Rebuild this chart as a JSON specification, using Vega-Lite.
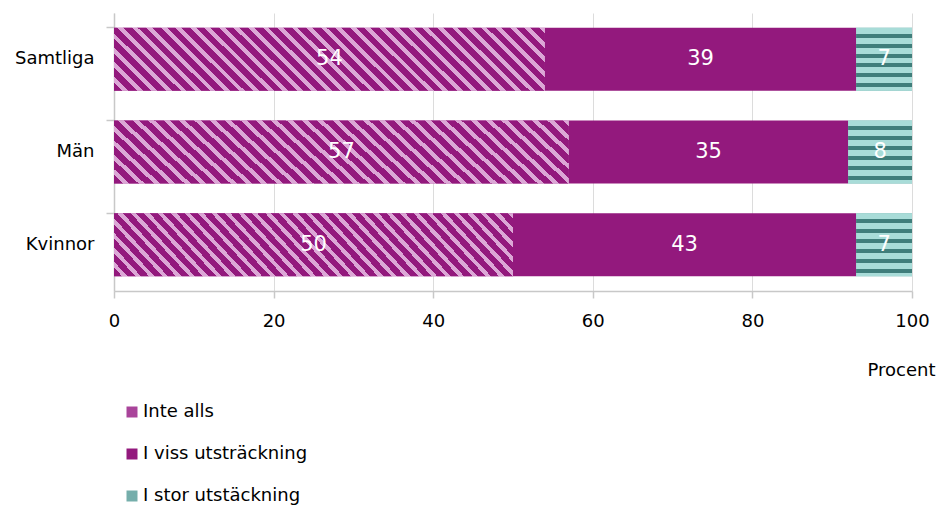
{
  "$schema": "https://vega.github.io/schema/vega-lite/v6.json",
  "width": 798,
  "height": 278,
  "autosize": {"type": "none"},
  "padding": {"left": 114, "top": 13, "right": 25, "bottom": 218},
  "background": "white",
  "config": {"font": "DejaVu Sans", "view": {"stroke": null}},
  "data": {
    "values": [
      {"grupp": "Samtliga", "svar": "Inte alls", "procent": 54},
      {"grupp": "Samtliga", "svar": "I viss utsträckning", "procent": 39},
      {"grupp": "Samtliga", "svar": "I stor utstäckning", "procent": 7},
      {"grupp": "Män", "svar": "Inte alls", "procent": 57},
      {"grupp": "Män", "svar": "I viss utsträckning", "procent": 35},
      {"grupp": "Män", "svar": "I stor utstäckning", "procent": 8},
      {"grupp": "Kvinnor", "svar": "Inte alls", "procent": 50},
      {"grupp": "Kvinnor", "svar": "I viss utsträckning", "procent": 43},
      {"grupp": "Kvinnor", "svar": "I stor utstäckning", "procent": 7}
    ]
  },
  "transform": [
    {"stack": "procent", "groupby": ["grupp"], "sort": [{"field": "svar", "order": "descending"}], "as": ["x0", "x1"]},
    {"calculate": "(datum.x0 + datum.x1) / 2", "as": "mid"}
  ],
  "encoding": {
    "y": {
      "field": "grupp", "type": "nominal",
      "sort": ["Samtliga", "Män", "Kvinnor"],
      "scale": {"paddingInner": 0.32, "paddingOuter": 0.16},
      "axis": {
        "title": null, "domainColor": "#c8c8c8", "domainWidth": 1.5, "tickColor": "#c8c8c8", "tickWidth": 1.5,
        "tickSize": 8, "bandPosition": 0, "labelPadding": 12,
        "labelFontSize": 18, "labelColor": "#000000", "grid": false
      }
    },
    "x": {
      "field": "x0", "type": "quantitative",
      "scale": {"domain": [0, 100], "nice": false},
      "axis": {
        "values": [0, 20, 40, 60, 80, 100], "grid": true, "gridColor": "#dcdcdc",
        "domainColor": "#c8c8c8", "domainWidth": 1.5, "tickColor": "#c8c8c8", "tickWidth": 1.5, "tickSize": 7,
        "labelFontSize": 18, "labelColor": "#000000", "labelPadding": 14, "labelFlush": false,
        "title": "Procent", "titleFontSize": 18, "titleFontWeight": "normal", "titleColor": "#000000",
        "titleX": 821, "titleY": 79, "titleAlign": "right", "titleBaseline": "middle"
      }
    },
    "x2": {"field": "x1"}
  },
  "layer": [
    {
      "mark": {"type": "bar"},
      "encoding": {
        "color": {
          "field": "svar", "type": "nominal",
          "scale": {"domain": ["Inte alls", "I viss utsträckning", "I stor utstäckning"], "range": ["#a9449a", "#93197d", "#75aeab"]},
          "legend": {
            "title": null, "orient": "none", "legendX": 9, "legendY": 390, "symbolType": "square",
            "symbolSize": 121, "labelFontSize": 18, "labelColor": "#000000", "rowPadding": 24, "padding": 0,
            "labelOffset": 2, "symbolStrokeWidth": 0, "labelLimit": 0
          }
        }
      }
    },
    {
      "transform": [{"filter": "datum.svar === 'Inte alls'"}],
      "mark": {
        "type": "bar",
        "fill": {
          "gradient": "linear", "x1": 0, "y1": 1, "x2": 1.1229, "y2": 0.8347,
          "stops": [
            {"offset": 0, "color": "#93197d"},
            {"offset": 0.0176, "color": "#93197d"}, {"offset": 0.0176, "color": "#dca7d6"}, {"offset": 0.0294, "color": "#dca7d6"}, {"offset": 0.0294, "color": "#93197d"},
            {"offset": 0.0471, "color": "#93197d"}, {"offset": 0.0471, "color": "#dca7d6"}, {"offset": 0.0588, "color": "#dca7d6"}, {"offset": 0.0588, "color": "#93197d"},
            {"offset": 0.0765, "color": "#93197d"}, {"offset": 0.0765, "color": "#dca7d6"}, {"offset": 0.0882, "color": "#dca7d6"}, {"offset": 0.0882, "color": "#93197d"},
            {"offset": 0.1059, "color": "#93197d"}, {"offset": 0.1059, "color": "#dca7d6"}, {"offset": 0.1176, "color": "#dca7d6"}, {"offset": 0.1176, "color": "#93197d"},
            {"offset": 0.1353, "color": "#93197d"}, {"offset": 0.1353, "color": "#dca7d6"}, {"offset": 0.1471, "color": "#dca7d6"}, {"offset": 0.1471, "color": "#93197d"},
            {"offset": 0.1647, "color": "#93197d"}, {"offset": 0.1647, "color": "#dca7d6"}, {"offset": 0.1765, "color": "#dca7d6"}, {"offset": 0.1765, "color": "#93197d"},
            {"offset": 0.1941, "color": "#93197d"}, {"offset": 0.1941, "color": "#dca7d6"}, {"offset": 0.2059, "color": "#dca7d6"}, {"offset": 0.2059, "color": "#93197d"},
            {"offset": 0.2235, "color": "#93197d"}, {"offset": 0.2235, "color": "#dca7d6"}, {"offset": 0.2353, "color": "#dca7d6"}, {"offset": 0.2353, "color": "#93197d"},
            {"offset": 0.2529, "color": "#93197d"}, {"offset": 0.2529, "color": "#dca7d6"}, {"offset": 0.2647, "color": "#dca7d6"}, {"offset": 0.2647, "color": "#93197d"},
            {"offset": 0.2824, "color": "#93197d"}, {"offset": 0.2824, "color": "#dca7d6"}, {"offset": 0.2941, "color": "#dca7d6"}, {"offset": 0.2941, "color": "#93197d"},
            {"offset": 0.3118, "color": "#93197d"}, {"offset": 0.3118, "color": "#dca7d6"}, {"offset": 0.3235, "color": "#dca7d6"}, {"offset": 0.3235, "color": "#93197d"},
            {"offset": 0.3412, "color": "#93197d"}, {"offset": 0.3412, "color": "#dca7d6"}, {"offset": 0.3529, "color": "#dca7d6"}, {"offset": 0.3529, "color": "#93197d"},
            {"offset": 0.3706, "color": "#93197d"}, {"offset": 0.3706, "color": "#dca7d6"}, {"offset": 0.3824, "color": "#dca7d6"}, {"offset": 0.3824, "color": "#93197d"},
            {"offset": 0.4000, "color": "#93197d"}, {"offset": 0.4000, "color": "#dca7d6"}, {"offset": 0.4118, "color": "#dca7d6"}, {"offset": 0.4118, "color": "#93197d"},
            {"offset": 0.4294, "color": "#93197d"}, {"offset": 0.4294, "color": "#dca7d6"}, {"offset": 0.4412, "color": "#dca7d6"}, {"offset": 0.4412, "color": "#93197d"},
            {"offset": 0.4588, "color": "#93197d"}, {"offset": 0.4588, "color": "#dca7d6"}, {"offset": 0.4706, "color": "#dca7d6"}, {"offset": 0.4706, "color": "#93197d"},
            {"offset": 0.4882, "color": "#93197d"}, {"offset": 0.4882, "color": "#dca7d6"}, {"offset": 0.5000, "color": "#dca7d6"}, {"offset": 0.5000, "color": "#93197d"},
            {"offset": 0.5176, "color": "#93197d"}, {"offset": 0.5176, "color": "#dca7d6"}, {"offset": 0.5294, "color": "#dca7d6"}, {"offset": 0.5294, "color": "#93197d"},
            {"offset": 0.5471, "color": "#93197d"}, {"offset": 0.5471, "color": "#dca7d6"}, {"offset": 0.5588, "color": "#dca7d6"}, {"offset": 0.5588, "color": "#93197d"},
            {"offset": 0.5765, "color": "#93197d"}, {"offset": 0.5765, "color": "#dca7d6"}, {"offset": 0.5882, "color": "#dca7d6"}, {"offset": 0.5882, "color": "#93197d"},
            {"offset": 0.6059, "color": "#93197d"}, {"offset": 0.6059, "color": "#dca7d6"}, {"offset": 0.6176, "color": "#dca7d6"}, {"offset": 0.6176, "color": "#93197d"},
            {"offset": 0.6353, "color": "#93197d"}, {"offset": 0.6353, "color": "#dca7d6"}, {"offset": 0.6471, "color": "#dca7d6"}, {"offset": 0.6471, "color": "#93197d"},
            {"offset": 0.6647, "color": "#93197d"}, {"offset": 0.6647, "color": "#dca7d6"}, {"offset": 0.6765, "color": "#dca7d6"}, {"offset": 0.6765, "color": "#93197d"},
            {"offset": 0.6941, "color": "#93197d"}, {"offset": 0.6941, "color": "#dca7d6"}, {"offset": 0.7059, "color": "#dca7d6"}, {"offset": 0.7059, "color": "#93197d"},
            {"offset": 0.7235, "color": "#93197d"}, {"offset": 0.7235, "color": "#dca7d6"}, {"offset": 0.7353, "color": "#dca7d6"}, {"offset": 0.7353, "color": "#93197d"},
            {"offset": 0.7529, "color": "#93197d"}, {"offset": 0.7529, "color": "#dca7d6"}, {"offset": 0.7647, "color": "#dca7d6"}, {"offset": 0.7647, "color": "#93197d"},
            {"offset": 0.7824, "color": "#93197d"}, {"offset": 0.7824, "color": "#dca7d6"}, {"offset": 0.7941, "color": "#dca7d6"}, {"offset": 0.7941, "color": "#93197d"},
            {"offset": 0.8118, "color": "#93197d"}, {"offset": 0.8118, "color": "#dca7d6"}, {"offset": 0.8235, "color": "#dca7d6"}, {"offset": 0.8235, "color": "#93197d"},
            {"offset": 0.8412, "color": "#93197d"}, {"offset": 0.8412, "color": "#dca7d6"}, {"offset": 0.8529, "color": "#dca7d6"}, {"offset": 0.8529, "color": "#93197d"},
            {"offset": 0.8706, "color": "#93197d"}, {"offset": 0.8706, "color": "#dca7d6"}, {"offset": 0.8824, "color": "#dca7d6"}, {"offset": 0.8824, "color": "#93197d"},
            {"offset": 0.9000, "color": "#93197d"}, {"offset": 0.9000, "color": "#dca7d6"}, {"offset": 0.9118, "color": "#dca7d6"}, {"offset": 0.9118, "color": "#93197d"},
            {"offset": 0.9294, "color": "#93197d"}, {"offset": 0.9294, "color": "#dca7d6"}, {"offset": 0.9412, "color": "#dca7d6"}, {"offset": 0.9412, "color": "#93197d"},
            {"offset": 0.9588, "color": "#93197d"}, {"offset": 0.9588, "color": "#dca7d6"}, {"offset": 0.9706, "color": "#dca7d6"}, {"offset": 0.9706, "color": "#93197d"},
            {"offset": 0.9882, "color": "#93197d"}, {"offset": 0.9882, "color": "#dca7d6"}, {"offset": 1, "color": "#dca7d6"}
          ]
        }
      }
    },
    {
      "transform": [{"filter": "datum.svar === 'I stor utstäckning'"}],
      "mark": {
        "type": "bar",
        "fill": {
          "gradient": "linear", "x1": 0, "y1": 0, "x2": 0, "y2": 1,
          "stops": [
            {"offset": 0, "color": "#a8dcd8"}, {"offset": 0.094, "color": "#a8dcd8"}, {"offset": 0.094, "color": "#3f7e7b"}, {"offset": 0.157, "color": "#3f7e7b"},
            {"offset": 0.157, "color": "#a8dcd8"}, {"offset": 0.251, "color": "#a8dcd8"}, {"offset": 0.251, "color": "#3f7e7b"}, {"offset": 0.314, "color": "#3f7e7b"},
            {"offset": 0.314, "color": "#a8dcd8"}, {"offset": 0.408, "color": "#a8dcd8"}, {"offset": 0.408, "color": "#3f7e7b"}, {"offset": 0.471, "color": "#3f7e7b"},
            {"offset": 0.471, "color": "#a8dcd8"}, {"offset": 0.565, "color": "#a8dcd8"}, {"offset": 0.565, "color": "#3f7e7b"}, {"offset": 0.628, "color": "#3f7e7b"},
            {"offset": 0.628, "color": "#a8dcd8"}, {"offset": 0.722, "color": "#a8dcd8"}, {"offset": 0.722, "color": "#3f7e7b"}, {"offset": 0.785, "color": "#3f7e7b"},
            {"offset": 0.785, "color": "#a8dcd8"}, {"offset": 0.879, "color": "#a8dcd8"}, {"offset": 0.879, "color": "#3f7e7b"}, {"offset": 0.942, "color": "#3f7e7b"},
            {"offset": 0.942, "color": "#a8dcd8"}, {"offset": 1, "color": "#a8dcd8"}
          ]
        }
      }
    },
    {
      "mark": {"type": "text", "color": "#ffffff", "fontSize": 21, "baseline": "middle", "align": "center"},
      "encoding": {
        "x": {"field": "mid", "type": "quantitative", "title": "Procent"},
        "x2": null,
        "text": {"field": "procent", "type": "quantitative"}
      }
    }
  ]
}
